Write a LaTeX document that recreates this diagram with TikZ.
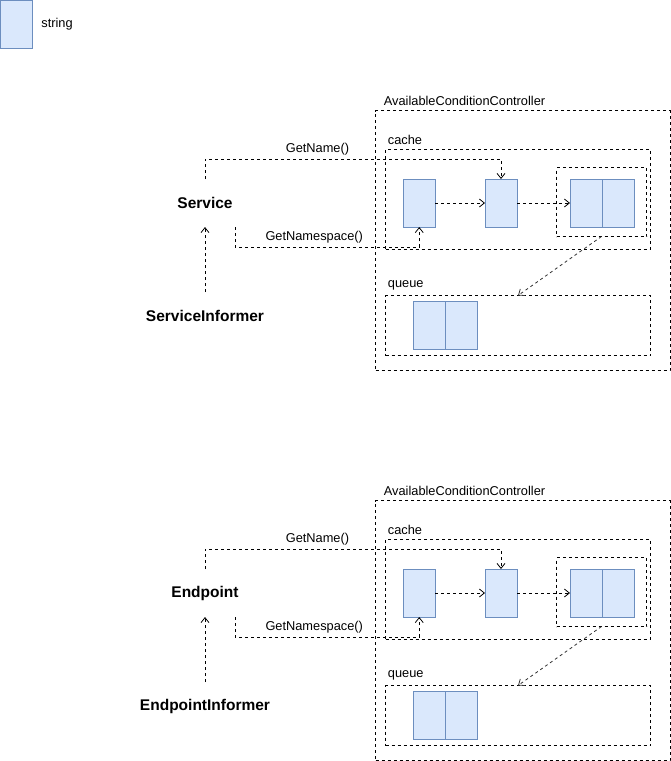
\documentclass[tikz,border=0pt]{standalone}
\usepackage{fontspec}
\setmainfont{Liberation Sans}
\usetikzlibrary{arrows.meta}
\definecolor{strfill}{HTML}{DAE8FC}
\definecolor{strline}{HTML}{6C8EBF}

\begin{document}
\begin{tikzpicture}[x=1pt,y=-1pt,>={Straight Barb[length=5pt,width=8pt]},line width=0.8pt,
  strbox/.style={draw=strline,fill=strfill,minimum width=32pt,minimum height=48pt,inner sep=0pt,outer sep=0pt},
  grp/.style={draw,dash pattern=on 3pt off 3pt,inner sep=0pt,outer sep=0pt},
  lbl/.style={font=\fontsize{12.8}{15}\selectfont,inner sep=0pt,anchor=west},
  comp/.style={font=\fontsize{15.5}{18}\bfseries\selectfont,minimum width=120pt,minimum height=48pt,inner sep=0pt,outer sep=0pt},
  flow/.style={->,dash pattern=on 3pt off 3pt}]
\useasboundingbox (0,0) rectangle (671,761);

% legend
\node[strbox] (key) at (16.5,24.5) {};
\node[lbl] (keytxt) at (41,24.5) {string};

\foreach \dy/\name/\feed/\k in {0/Service/ServiceInformer/s,390/Endpoint/EndpointInformer/e}{
\begin{scope}[shift={(0,\dy)}]
% containers
\node[grp,minimum width=294.5pt,minimum height=259.5pt] (ctl\k) at (522.75,240.25) {};
\node[grp,minimum width=265pt,minimum height=99.5pt] (cache\k) at (518,199.25) {};
\node[grp,minimum width=90pt,minimum height=69pt] (inner\k) at (601.5,202) {};
\node[grp,minimum width=265pt,minimum height=60pt] (queue\k) at (518,325.5) {};
\node[lbl,xshift=8pt,yshift=10pt] (ctllbl\k) at (ctl\k.north west) {AvailableConditionController};
\node[lbl,xshift=2pt,yshift=10pt] (cachelbl\k) at (cache\k.north west) {cache};
\node[lbl,xshift=2pt,yshift=10pt] (queuelbl\k) at (queue\k.north west) {queue};

% strings
\node[strbox] (b1\k) at (419.25,203) {};
\node[strbox] (b2\k) at (501,203) {};
\node[strbox] (p1\k) at (586,203) {};
\node[strbox] (p2\k) at (618,203) {};
\node[strbox] (q1\k) at (429,325) {};
\node[strbox] (q2\k) at (461,325) {};

% components
\node[comp] (svc\k) at (205,203) {\name};
\node[comp] (inf\k) at (205,316) {\feed};

\draw[flow] (inf\k.north) -- (svc\k.south);
\draw[flow] (svc\k.north) -- ++(0,-20) -| node[lbl,anchor=south,yshift=3pt,pos=0.19] (gn\k) {GetName()} (b2\k.north);
\draw[flow] ([xshift=30pt]svc\k.south) -- ++(0,20) -| node[lbl,anchor=south,yshift=3pt,pos=0.215] (gns\k) {GetNamespace()} (b1\k.south);
\draw[flow] (b1\k) -- (b2\k);
\draw[flow] (b2\k) -- (p1\k);
\draw[flow,draw=black!80] (inner\k.south) -- (queue\k.north);
\end{scope}}
\end{tikzpicture}
\end{document}
